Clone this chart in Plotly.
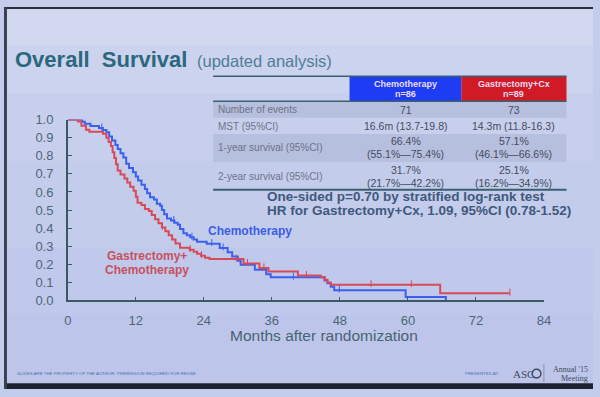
import plotly.graph_objects as go

W, H = 600, 397

# ---------------- data ----------------
chemo_t = [0, 2.5, 3.0, 4.0, 5.5, 6.2, 6.8, 7.3, 7.8, 8.4, 8.8, 9.3, 9.8, 10.3, 10.8, 11.5, 12.0, 12.4,
           13.0, 13.6, 14.0, 14.5, 15.2, 15.7, 16.3, 16.6, 17.0, 17.5, 18.2, 18.8, 19.4, 19.8, 20.4, 21.0,
           21.6, 22.2, 22.8, 24.5, 26.8, 28.2, 29.0, 30.0, 30.5, 33.0, 35.0, 35.8, 45.3, 45.8, 46.4, 47.0,
           59.6, 66.7]
chemo_s = [1.0, 0.988, 0.977, 0.965, 0.953, 0.942, 0.930, 0.907, 0.884, 0.860, 0.837, 0.814, 0.791, 0.756,
           0.733, 0.709, 0.686, 0.663, 0.640, 0.616, 0.593, 0.570, 0.558, 0.535, 0.523, 0.500, 0.477, 0.453,
           0.442, 0.430, 0.418, 0.395, 0.372, 0.360, 0.349, 0.337, 0.325, 0.314, 0.290, 0.266, 0.243, 0.220,
           0.198, 0.170, 0.145, 0.128, 0.110, 0.095, 0.076, 0.057, 0.019, 0.0]

gast_t = [0, 1.8, 2.4, 3.2, 3.8, 6.2, 6.8, 7.2, 7.6, 7.9, 8.2, 8.5, 8.8, 9.3, 10.0, 10.5, 11.0, 11.6, 12.0,
          12.3, 13.0, 13.6, 14.3, 14.8, 15.4, 16.0, 16.6, 17.2, 17.8, 18.4, 19.0, 19.8, 21.5, 22.2, 22.8,
          23.5, 24.2, 25.0, 31.0, 33.8, 35.4, 40.6, 44.6, 45.3, 45.8, 46.4, 65.7, 78.0]
gast_s = [1.0, 0.989, 0.966, 0.944, 0.933, 0.921, 0.899, 0.876, 0.854, 0.820, 0.787, 0.753, 0.719, 0.697,
          0.674, 0.652, 0.629, 0.607, 0.573, 0.540, 0.528, 0.506, 0.494, 0.472, 0.449, 0.427, 0.404, 0.382,
          0.360, 0.337, 0.315, 0.292, 0.281, 0.270, 0.258, 0.247, 0.236, 0.229, 0.204, 0.180, 0.160, 0.138,
          0.128, 0.115, 0.100, 0.087, 0.040, 0.040]

chemo_censor = [2.0, 6.0, 18.7, 21.9, 25.4, 27.4, 39.8, 47.9]
gast_censor = [16.7, 21.6, 23.6, 29.7, 31.7, 34.6, 42.1, 53.5, 60.6, 78.0]

x_ticks = [0, 12, 24, 36, 48, 60, 72, 84]
y_ticks = [0.0, 0.1, 0.2, 0.3, 0.4, 0.5, 0.6, 0.7, 0.8, 0.9, 1.0]
y_ticktext = ["0.0", "0.1", "0.2", "0.3", "0.4", "0.5", "0.6", "0.7", "0.8", "0.9", "1.0"]

col_headers = ["Chemotherapy", "Gastrectomy+Cx"]
col_n = ["n=86", "n=89"]
row_labels = ["Number of events", "MST (95%CI)", "1-year survival (95%CI)", "2-year survival (95%CI)"]
chemo_vals = [["71"], ["16.6m (13.7-19.8)"], ["66.4%", "(55.1%\u201475.4%)"], ["31.7%", "(21.7%\u201442.2%)"]]
gast_vals = [["73"], ["14.3m (11.8-16.3)"], ["57.1%", "(46.1%\u201466.6%)"], ["25.1%", "(16.2%\u201434.9%)"]]
stat_lines = ["One-sided p=0.70 by stratified log-rank test",
              "HR for Gastrectomy+Cx, 1.09, 95%CI (0.78-1.52)"]

BLUE = "#3b60ee"
RED = "#d64a5a"
AX = "#3c5866"


def surv_at(t, times, surv):
    s = surv[0]
    for ti, si in zip(times, surv):
        if ti <= t:
            s = si
    return s


def px(x):
    return x / W


def py(y):
    return 1 - y / H


fig = go.Figure()

fig.add_trace(go.Scatter(x=chemo_t, y=chemo_s, mode="lines", line=dict(shape="hv", color=BLUE, width=2),
                         cliponaxis=False, hoverinfo="skip"))
fig.add_trace(go.Scatter(x=gast_t, y=gast_s, mode="lines", line=dict(shape="hv", color=RED, width=2),
                         cliponaxis=False, hoverinfo="skip"))
fig.add_trace(go.Scatter(x=chemo_censor, y=[surv_at(t, chemo_t, chemo_s) + 0.006 for t in chemo_censor],
                         mode="markers", marker=dict(symbol="line-ns", size=5, line=dict(width=1, color=BLUE)),
                         cliponaxis=False, hoverinfo="skip"))
fig.add_trace(go.Scatter(x=gast_censor, y=[surv_at(t, gast_t, gast_s) + 0.006 for t in gast_censor],
                         mode="markers", marker=dict(symbol="line-ns", size=5, line=dict(width=1, color=RED)),
                         cliponaxis=False, hoverinfo="skip"))

shapes = []
# photo-like borders
shapes.append(dict(type="rect", xref="paper", yref="paper", x0=0, x1=1, y0=py(2), y1=1,
                   fillcolor="#2a2e3a", line=dict(width=0), layer="above"))
shapes.append(dict(type="rect", xref="paper", yref="paper", x0=0, x1=1, y0=0, y1=py(391),
                   fillcolor="#1e2230", line=dict(width=0), layer="above"))
shapes.append(dict(type="rect", xref="paper", yref="paper", x0=0, x1=px(3), y0=0, y1=1,
                   fillcolor="#3a4050", line=dict(width=0), layer="above"))
# subtle vertical gradient bands
bands = [(2, 40, "#d2d8ef"), (40, 90, "#ccd3ee"), (90, 160, "#c8cfed"), (160, 250, "#c4ccec"),
         (250, 320, "#c0c9eb"), (320, 391, "#bdc6ea")]
for y0, y1, c in bands:
    shapes.append(dict(type="rect", xref="paper", yref="paper", x0=0, x1=1, y0=py(y1), y1=py(y0),
                       fillcolor=c, line=dict(width=0), layer="below"))

# table
TL, TR = 213, 573
C1L, C1R, C2R = 352, 466, 573
shapes.append(dict(type="rect", xref="paper", yref="paper", x0=px(C1L), x1=px(C1R), y0=py(98), y1=py(72),
                   fillcolor="#1f3cf5", line=dict(width=0)))
shapes.append(dict(type="rect", xref="paper", yref="paper", x0=px(C1R), x1=px(C2R), y0=py(98), y1=py(72),
                   fillcolor="#d01a26", line=dict(width=0)))
for y0, y1 in [(98, 115), (132, 161)]:
    shapes.append(dict(type="rect", xref="paper", yref="paper", x0=px(TL), x1=px(TR), y0=py(y1), y1=py(y0),
                       fillcolor="#b6bfde", line=dict(width=0)))
for yy, w in [(72, 1.5), (98, 1.5), (190, 2)]:
    shapes.append(dict(type="line", xref="paper", yref="paper", x0=px(TL), x1=px(TR), y0=py(yy), y1=py(yy),
                       line=dict(color="#3a6070", width=w)))

ann = []
FONT = "Liberation Sans, Arial, sans-serif"
SERIF = "Liberation Serif, serif"


def text(x, y, s, size, color, bold=False, xanchor="left", family=FONT):
    ann.append(dict(x=px(x), y=py(y), xref="paper", yref="paper", text=("<b>%s</b>" % s) if bold else s,
                    showarrow=False, xanchor=xanchor, yanchor="middle",
                    font=dict(family=family, size=size, color=color)))


# title
text(9, 55, "Overall&nbsp; Survival", 22, "#2b687e", bold=True)
text(195, 56, "(updated analysis)", 16.5, "#4f7d98")

# header
centers = [409, 519.5]
for i in range(2):
    text(centers[i], 80, col_headers[i], 9, "#eadcf2", bold=True, xanchor="center")
    text(centers[i], 90.5, col_n[i], 9, "#eadcf2", bold=True, xanchor="center")

row_y = [107, 124, 146.5, 176]
val_y = [[107], [124], [139.5, 153], [169.5, 182.5]]
for r, lab in enumerate(row_labels):
    text(216, row_y[r], lab, 10, "#6b7388")
    for j, s in enumerate(chemo_vals[r]):
        text(centers[0], val_y[r][j], s, 10.5, "#454c5e", xanchor="center")
    for j, s in enumerate(gast_vals[r]):
        text(centers[1], val_y[r][j], s, 10.5, "#454c5e", xanchor="center")

text(266, 196.5, stat_lines[0], 13.5, "#40597c", bold=True)
text(266, 212, stat_lines[1], 13.5, "#40597c", bold=True)

# curve labels
text(206, 233, "Chemotherapy", 12, "#3c5de6", bold=True)
text(146, 259, "Gastrectomy+", 12, "#c8505e", bold=True, xanchor="center")
text(146, 273, "Chemotherapy", 12, "#c8505e", bold=True, xanchor="center")

# x axis title
text(326, 341, "Months after randomization", 15.5, "#4a6272", xanchor="center")

# footer
text(11, 381, "SLIDES ARE THE PROPERTY OF THE AUTHOR. PERMISSION REQUIRED FOR REUSE.", 4.4, "#4a6fb0")
text(468, 381, "PRESENTED AT:", 4.4, "#4a6fb0")
text(516, 381, "ASC", 11, "#3e4a5e", family=SERIF)
shapes.append(dict(type="circle", xref="paper", yref="paper", x0=px(538), x1=px(547), y0=py(385.5), y1=py(376.5),
                   line=dict(color="#3e4a5e", width=1.5)))
text(597, 376.5, "Annual '15", 8, "#3e4a5e", xanchor="right", family=SERIF)
text(597, 386, "Meeting", 8, "#3e4a5e", xanchor="right", family=SERIF)
shapes.append(dict(type="line", xref="paper", yref="paper", x0=px(550), x1=px(550), y0=py(390), y1=py(371),
                   line=dict(color="#7a8498", width=0.8)))

fig.update_layout(
    width=W, height=H,
    margin=dict(l=0, r=0, t=0, b=0),
    paper_bgcolor="#c4ccec",
    plot_bgcolor="rgba(0,0,0,0)",
    showlegend=False,
    shapes=shapes,
    annotations=ann,
    xaxis=dict(domain=[65 / W, 550 / W], range=[0, 84], tickvals=x_ticks, ticks="inside", ticklen=4,
               tickcolor=AX, showline=True, linecolor=AX, linewidth=1.5, showgrid=False, zeroline=False,
               tickfont=dict(family=FONT, size=13, color="#4e6678"), ticklabelstandoff=7, fixedrange=True),
    yaxis=dict(domain=[(H - 305) / H, (H - 117) / H], range=[0, 1.0], tickvals=y_ticks, ticktext=y_ticktext,
               ticks="inside", ticklen=4, tickcolor=AX, showline=True, linecolor=AX, linewidth=1.5,
               showgrid=False, zeroline=False, tickfont=dict(family=FONT, size=13, color="#4e6678"),
               ticklabelstandoff=10, fixedrange=True),
)

fig.write_html("out.html", config={"displayModeBar": False},
               post_script="document.body.style.margin='0';document.body.style.overflow='hidden';")
